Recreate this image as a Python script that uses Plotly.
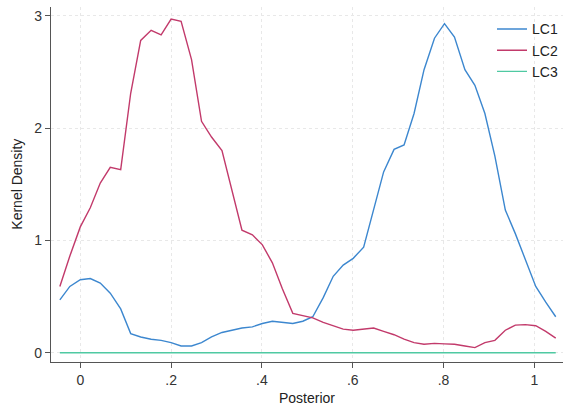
import plotly.graph_objects as go

# evaluation grid (posterior values)
posterior = [-0.045, -0.023, 0.000, 0.022, 0.044, 0.066, 0.089, 0.111, 0.133, 0.156,
             0.178, 0.200, 0.222, 0.245, 0.267, 0.289, 0.312, 0.334, 0.356, 0.379,
             0.401, 0.423, 0.445, 0.468, 0.490, 0.512, 0.535, 0.557, 0.579, 0.601,
             0.624, 0.646, 0.668, 0.691, 0.713, 0.735, 0.757, 0.780, 0.802, 0.824,
             0.847, 0.869, 0.891, 0.913, 0.936, 0.958, 0.980, 1.003, 1.025, 1.047]

lc1 = [0.47, 0.59, 0.65, 0.66, 0.62, 0.53, 0.39, 0.17, 0.14, 0.12,
       0.11, 0.09, 0.06, 0.06, 0.09, 0.14, 0.18, 0.20, 0.22, 0.23,
       0.26, 0.28, 0.27, 0.26, 0.28, 0.32, 0.49, 0.68, 0.78, 0.84,
       0.94, 1.27, 1.61, 1.81, 1.85, 2.13, 2.52, 2.80, 2.93, 2.81,
       2.52, 2.38, 2.13, 1.75, 1.27, 1.06, 0.83, 0.59, 0.45, 0.32]

lc2 = [0.59, 0.86, 1.12, 1.29, 1.51, 1.65, 1.63, 2.31, 2.78, 2.87,
       2.83, 2.97, 2.95, 2.61, 2.06, 1.92, 1.80, 1.45, 1.09, 1.05,
       0.96, 0.80, 0.57, 0.35, 0.33, 0.31, 0.27, 0.24, 0.21, 0.20,
       0.21, 0.22, 0.19, 0.16, 0.12, 0.09, 0.075, 0.083, 0.078, 0.075,
       0.06, 0.045, 0.09, 0.11, 0.20, 0.245, 0.25, 0.24, 0.19, 0.13]

lc3 = [0.0] * 50

series_names = ["LC1", "LC2", "LC3"]
series_colors = ["#3c87cf", "#c23a6b", "#4fc9a2"]

x_tickvals = [0, 0.2, 0.4, 0.6, 0.8, 1.0]
x_ticktext = ["0", ".2", ".4", ".6", ".8", "1"]
y_tickvals = [0, 1, 2, 3]
y_ticktext = ["0", "1", "2", "3"]

fig = go.Figure()
for name, ys, col in zip(series_names, [lc1, lc2, lc3], series_colors):
    fig.add_trace(go.Scatter(x=posterior, y=ys, mode="lines", name=name,
                             line=dict(color=col, width=1.4)))

axis_common = dict(
    showline=True, linecolor="#555555", linewidth=1.2,
    ticks="outside", ticklen=5, tickcolor="#555555", tickwidth=1.2,
    showgrid=True, gridcolor="#e8e8e8", griddash="dot", gridwidth=1,
    zeroline=False, tickfont=dict(size=14, color="#333333"), automargin=False,
)

fig.update_layout(
    width=563, height=406,
    margin=dict(l=51, r=0, t=7, b=44, autoexpand=False),
    paper_bgcolor="white", plot_bgcolor="white",
    font=dict(family="Liberation Sans, Arial, sans-serif", size=14, color="#222222"),
    xaxis=dict(range=[-0.0645, 1.063], tickvals=x_tickvals, ticktext=x_ticktext, **axis_common),
    yaxis=dict(range=[-0.083, 3.078], tickvals=y_tickvals, ticktext=y_ticktext, **axis_common),
    legend=dict(x=1.0, y=0.982, xanchor="right", yanchor="top", tracegroupgap=0,
                bgcolor="rgba(0,0,0,0)", font=dict(size=14)),
    showlegend=True,
    annotations=[
        dict(text="Posterior", xref="paper", yref="paper", x=0.5, y=-0.101,
             xanchor="center", yanchor="middle", showarrow=False, font=dict(size=14)),
        dict(text="Kernel Density", xref="paper", yref="paper", x=-0.068, y=0.5,
             xanchor="center", yanchor="middle", textangle=-90, showarrow=False,
             font=dict(size=14)),
    ],
)

fig.write_html("out.html", config={"displayModeBar": False},
               post_script="document.body.style.margin='0';document.body.style.padding='0';")
